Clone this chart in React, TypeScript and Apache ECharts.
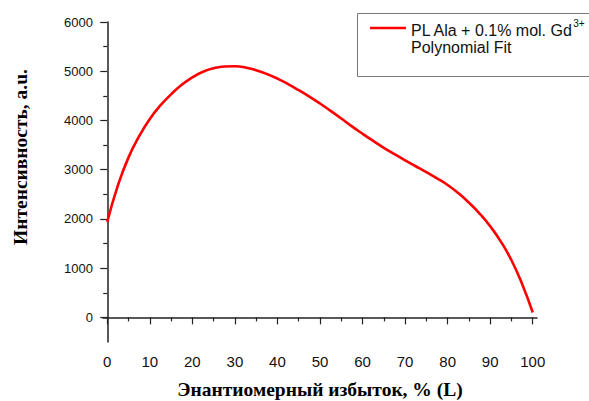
import React, { useEffect, useRef } from "react";
import * as echarts from "echarts";

const xValues = [0, 2.5, 5, 7.5, 10, 12.5, 15, 17.5, 20, 22.5, 25, 27.5, 30, 32.5, 35, 37.5, 40, 42.5, 45, 47.5, 50, 52.5, 55, 57.5, 60, 62.5, 65, 67.5, 70, 72.5, 75, 77.5, 80, 82.5, 85, 87.5, 90, 92.5, 95, 97.5, 100];
const yValues = [1940, 2680, 3250, 3680, 4030, 4305, 4530, 4725, 4875, 4990, 5060, 5095, 5100, 5075, 5020, 4945, 4850, 4740, 4615, 4485, 4345, 4195, 4040, 3880, 3730, 3585, 3445, 3315, 3190, 3070, 2950, 2825, 2690, 2525, 2330, 2110, 1850, 1540, 1160, 680, 100];

const xMajorTicks = [0, 10, 20, 30, 40, 50, 60, 70, 80, 90, 100];
const xMinorTicks = [5, 15, 25, 35, 45, 55, 65, 75, 85, 95];
const yMajorTicks = [0, 1000, 2000, 3000, 4000, 5000, 6000];
const yMinorTicks = [500, 1500, 2500, 3500, 4500, 5500];

const seriesName = "PL Ala + 0.1% mol. Gd";
const fitLabel = "Polynomial Fit";
const xTitle = "Энантиомерный избыток, % (L)";
const yTitle = "Интенсивность, а.u.";

export default function App() {
  const ref = useRef<HTMLDivElement>(null);
  useEffect(() => {
    if (!ref.current) return;
    const chart = echarts.init(ref.current, null, { renderer: "svg" });
    const axisColor = "#222";
    const sans = "Liberation Sans, Arial, sans-serif";
    const serif = "Liberation Serif, Times New Roman, serif";
    const xBase = {
      type: "value" as const,
      min: -1,
      max: 101,
      splitLine: { show: false },
    };
    const yBase = {
      type: "value" as const,
      min: -500,
      max: 6000,
      splitLine: { show: false },
    };
    chart.setOption({
      animation: false,
      backgroundColor: "#fff",
      grid: { left: 103, top: 22, right: 52, bottom: 59, containLabel: false },
      xAxis: [
        {
          ...xBase,
          axisLine: { show: true, lineStyle: { color: axisColor, width: 1.5 } },
          axisTick: { show: true, customValues: xMajorTicks, length: 7, lineStyle: { color: axisColor, width: 1.2 } },
          axisLabel: {
            customValues: xMajorTicks,
            formatter: (v: number) => String(v),
            color: "#111",
            fontSize: 15,
            fontFamily: sans,
            margin: 12,
          },
        },
        {
          ...xBase,
          position: "bottom",
          axisLine: { show: false },
          axisTick: { show: true, customValues: xMinorTicks, length: 4, lineStyle: { color: axisColor, width: 1.2 } },
          axisLabel: { show: false },
        },
      ],
      yAxis: [
        {
          ...yBase,
          axisLine: { show: true, lineStyle: { color: axisColor, width: 1.5 } },
          axisTick: { show: true, customValues: yMajorTicks, length: 7, lineStyle: { color: axisColor, width: 1.2 } },
          axisLabel: {
            customValues: yMajorTicks,
            formatter: (v: number) => String(v),
            color: "#111",
            fontSize: 13,
            fontFamily: sans,
            margin: 10,
          },
        },
        {
          ...yBase,
          position: "left",
          axisLine: { show: false },
          axisTick: { show: true, customValues: yMinorTicks, length: 4, lineStyle: { color: axisColor, width: 1.2 } },
          axisLabel: { show: false },
        },
      ],
      series: [
        {
          name: seriesName,
          type: "line",
          smooth: 0.5,
          showSymbol: false,
          data: xValues.map((x, i) => [x, yValues[i]]),
          lineStyle: { color: "#ff0000", width: 2.6 },
          itemStyle: { color: "#ff0000" },
        },
      ],
      graphic: [
        {
          type: "text",
          x: 20,
          y: 157,
          rotation: Math.PI / 2,
          style: {
            text: yTitle,
            fontSize: 19.5,
            fontWeight: "bold",
            fontFamily: serif,
            fill: "#000",
            align: "center",
            verticalAlign: "middle",
          },
        },
        {
          type: "text",
          x: 320,
          y: 389,
          style: {
            text: xTitle,
            fontSize: 19.5,
            fontWeight: "bold",
            fontFamily: serif,
            fill: "#000",
            align: "center",
            verticalAlign: "middle",
          },
        },
        {
          type: "rect",
          shape: { x: 357.5, y: 13.5, width: 240, height: 63 },
          style: { fill: "#fff", stroke: "#777", lineWidth: 1 },
        },
        {
          type: "line",
          shape: { x1: 370, y1: 28, x2: 406, y2: 28 },
          style: { stroke: "#ff0000", lineWidth: 2.6 },
        },
        {
          type: "text",
          x: 411,
          y: 28,
          style: {
            text: "{a|" + seriesName + "}{s|3+}",
            verticalAlign: "middle",
            rich: {
              a: { fontSize: 16, fontFamily: sans, fill: "#111", lineHeight: 20, verticalAlign: "bottom" },
              s: { fontSize: 10, fontFamily: sans, fill: "#111", lineHeight: 20, verticalAlign: "top" },
            },
          },
        },
        {
          type: "text",
          x: 411,
          y: 47.5,
          style: {
            text: fitLabel,
            fontSize: 16,
            fontFamily: sans,
            fill: "#111",
            verticalAlign: "middle",
          },
        },
      ],
    });
    return () => chart.dispose();
  }, []);
  return (
    <div
      ref={ref}
      style={{ position: "absolute", left: 0, top: 0, width: 589, height: 401, background: "#fff" }}
    />
  );
}
